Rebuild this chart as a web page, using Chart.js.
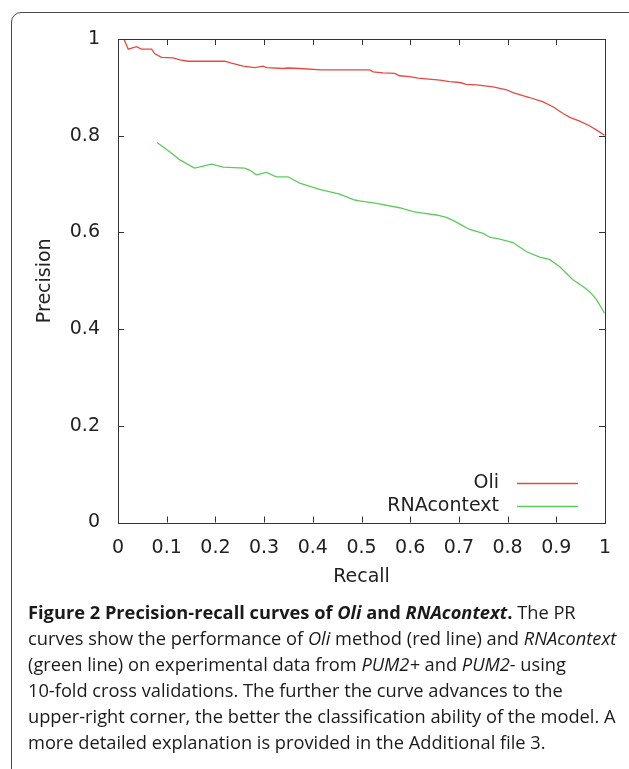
<!DOCTYPE html>
<html>
<head>
<meta charset="utf-8">
<script src="https://cdn.jsdelivr.net/npm/chart.js@4.4.1/dist/chart.umd.min.js"></script>
<style>
  html, body { margin: 0; padding: 0; background: #fff; overflow: hidden; }
  body { width: 629px; height: 769px; position: relative; }
  #frame {
    position: absolute; left: 11px; top: 12px; width: 700px; height: 800px;
    border: 1px solid #4a4a4a; border-radius: 10px;
  }
  #wrap { position: absolute; left: 0; top: 0; width: 629px; height: 600px; }
  #caption {
    position: absolute; left: 28px; top: 599px;
    font-family: "Open Sans", sans-serif; font-size: 18.25px; line-height: 26px;
    color: #1a1a1a; white-space: nowrap;
  }
</style>
</head>
<body>
<div id="frame"></div>
<div id="wrap"><canvas id="myChart" width="629" height="600"></canvas></div>
<div id="caption">
  <div><b>Figure 2 Precision-recall curves of <i>Oli</i> and <i>RNAcontext</i>.</b> The PR</div>
  <div>curves show the performance of <i>Oli</i> method (red line) and <i>RNAcontext</i></div>
  <div>(green line) on experimental data from <i>PUM2+</i> and <i>PUM2-</i> using</div>
  <div>10-fold cross validations. The further the curve advances to the</div>
  <div>upper-right corner, the better the classification ability of the model. A</div>
  <div>more detailed explanation is provided in the Additional file 3.</div>
</div>
<script>
const ctx = document.getElementById("myChart").getContext("2d");

// series names
const SERIES_NAMES = ["Oli", "RNAcontext"];

// Oli (red)
const oliRecall = [0.012, 0.021, 0.038, 0.048, 0.069, 0.075, 0.089, 0.113, 0.127, 0.144,
  0.219, 0.233, 0.257, 0.281, 0.298, 0.305, 0.339, 0.349, 0.373, 0.418,
  0.496, 0.517, 0.524, 0.544, 0.568, 0.578, 0.599, 0.616, 0.661, 0.681,
  0.702, 0.715, 0.736, 0.770, 0.798, 0.811, 0.845, 0.873, 0.893, 0.914,
  0.928, 0.948, 0.969, 0.982, 0.999];
const oliPrecision = [1.0, 0.979, 0.984, 0.979, 0.979, 0.970, 0.962, 0.961, 0.957, 0.954,
  0.954, 0.950, 0.944, 0.941, 0.944, 0.941, 0.939, 0.940, 0.939, 0.936,
  0.936, 0.936, 0.932, 0.930, 0.929, 0.924, 0.922, 0.919, 0.915, 0.912,
  0.910, 0.906, 0.905, 0.901, 0.895, 0.889, 0.879, 0.870, 0.860, 0.846,
  0.838, 0.830, 0.820, 0.812, 0.801];

// RNAcontext (green)
const rnaRecall = [0.080, 0.106, 0.127, 0.157, 0.175, 0.192, 0.216, 0.260, 0.270, 0.284,
  0.305, 0.325, 0.349, 0.373, 0.414, 0.455, 0.486, 0.496, 0.531, 0.578,
  0.606, 0.619, 0.654, 0.674, 0.688, 0.702, 0.722, 0.750, 0.763, 0.784,
  0.811, 0.839, 0.866, 0.886, 0.907, 0.921, 0.934, 0.955, 0.969, 0.982,
  0.999];
const rnaPrecision = [0.786, 0.767, 0.750, 0.733, 0.737, 0.741, 0.735, 0.733, 0.729, 0.719,
  0.724, 0.715, 0.715, 0.702, 0.689, 0.679, 0.667, 0.665, 0.660, 0.651,
  0.643, 0.641, 0.636, 0.631, 0.625, 0.617, 0.606, 0.598, 0.590, 0.586,
  0.579, 0.560, 0.549, 0.544, 0.529, 0.515, 0.502, 0.488, 0.477, 0.462,
  0.433];

// tick values
const xTickValues = [0, 0.1, 0.2, 0.3, 0.4, 0.5, 0.6, 0.7, 0.8, 0.9, 1];
const yTickValues = [0, 0.2, 0.4, 0.6, 0.8, 1];

const RED = "#e8483f";
const GREEN = "#5ccb5c";
const AXIS = "#333";
const FAMILY = "'DejaVu Sans', 'DejaVu Sans Book', sans-serif";
const FONT = { family: FAMILY, size: 19 };

function toPoints(xs, ys) {
  return xs.map((x, i) => ({ x: x, y: ys[i] }));
}

// gnuplot style box with inward ticks on all four sides
const boxPlugin = {
  id: "box",
  afterDraw(chart) {
    const { ctx, chartArea: a, scales } = chart;
    const len = 6;
    ctx.save();
    ctx.strokeStyle = AXIS;
    ctx.lineWidth = 1;
    ctx.beginPath();
    scales.x.ticks.forEach((t, i) => {
      const px = Math.round(scales.x.getPixelForTick(i)) + 0.5;
      ctx.moveTo(px, a.bottom); ctx.lineTo(px, a.bottom - len);
      ctx.moveTo(px, a.top); ctx.lineTo(px, a.top + len);
    });
    scales.y.ticks.forEach((t, i) => {
      const py = Math.round(scales.y.getPixelForTick(i)) + 0.5;
      ctx.moveTo(a.left, py); ctx.lineTo(a.left + len, py);
      ctx.moveTo(a.right, py); ctx.lineTo(a.right - len, py);
    });
    ctx.stroke();
    ctx.strokeRect(Math.round(a.left) + 0.5, Math.round(a.top) + 0.5,
      Math.round(a.right - a.left), Math.round(a.bottom - a.top));

    // key, text then sample line
    ctx.font = FONT.size + "px " + FAMILY;
    ctx.textAlign = "right";
    ctx.textBaseline = "middle";
    chart.data.datasets.forEach((ds, i) => {
      const y = a.bottom - 39.5 + i * 23;
      ctx.fillStyle = "#222";
      ctx.fillText(ds.label, a.right - 106, y);
      ctx.strokeStyle = ds.borderColor;
      ctx.lineWidth = 1.3;
      ctx.beginPath();
      ctx.moveTo(a.right - 88, y + 0.5);
      ctx.lineTo(a.right - 27, y + 0.5);
      ctx.stroke();
    });
    ctx.restore();
  }
};

const data = {
  datasets: [
    {
      label: SERIES_NAMES[0],
      data: toPoints(oliRecall, oliPrecision),
      borderColor: RED,
      borderWidth: 1.3,
      pointRadius: 0,
      showLine: true,
      tension: 0,
    },
    {
      label: SERIES_NAMES[1],
      data: toPoints(rnaRecall, rnaPrecision),
      borderColor: GREEN,
      borderWidth: 1.3,
      pointRadius: 0,
      showLine: true,
      tension: 0,
    },
  ],
};

const config = {
  type: "scatter",
  data: data,
  options: {
    responsive: false,
    animation: false,
    layout: { padding: { top: 39, right: 24, left: 0, bottom: 0 } },
    plugins: {
      legend: { display: false },
      tooltip: { enabled: false },
    },
    scales: {
      x: {
        type: "linear",
        min: 0,
        max: 1,
        afterBuildTicks: (s) => { s.ticks = xTickValues.map((v) => ({ value: v })); },
        afterFit: (s) => { s.height = 77.5; },
        grid: { display: false, drawTicks: false },
        border: { display: false },
        ticks: {
          color: "#222",
          font: FONT,
          padding: 14,
          maxRotation: 0,
          callback: (v) => String(v),
        },
        title: {
          display: true,
          text: "Recall",
          color: "#222",
          font: FONT,
          padding: { top: 0, bottom: 12 },
        },
      },
      y: {
        type: "linear",
        min: 0,
        max: 1,
        afterBuildTicks: (s) => { s.ticks = yTickValues.map((v) => ({ value: v })); },
        afterFit: (s) => { s.width = 118; },
        grid: { display: false, drawTicks: false },
        border: { display: false },
        ticks: {
          color: "#222",
          font: FONT,
          padding: 18,
          callback: (v) => String(v),
        },
        title: {
          display: true,
          text: "Precision",
          color: "#222",
          font: FONT,
          padding: { top: 33.6, bottom: 0 },
        },
      },
    },
  },
  plugins: [boxPlugin],
};

new Chart(ctx, config);
</script>
</body>
</html>
